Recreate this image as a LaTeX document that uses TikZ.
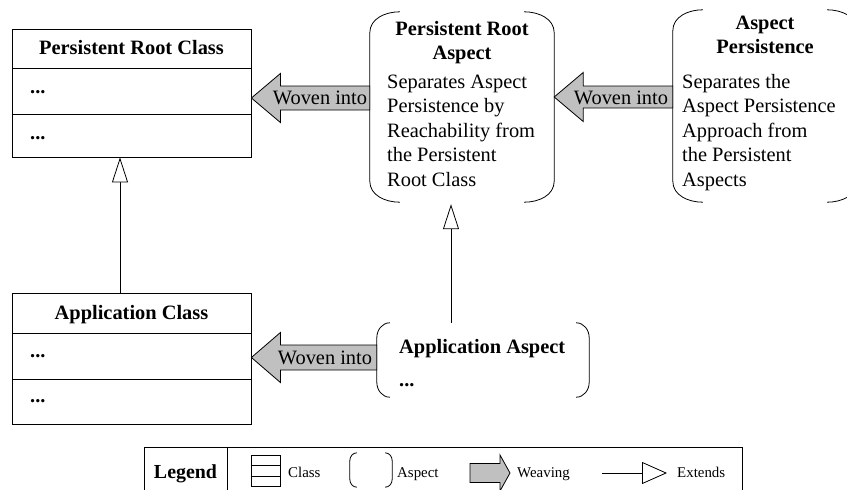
\documentclass[tikz,border=0pt]{standalone}
\usepackage{fontspec}
\setmainfont{Liberation Serif}
\usetikzlibrary{arrows.meta,calc}
\definecolor{wfill}{RGB}{192,192,192}
\newcommand{\aspbr}[3]{%
  \draw[ln] ([xshift=#2]#1.north west) to[out=180,in=90] ([yshift=-#3]#1.north west)
     -- ([yshift=#3]#1.south west) to[out=-90,in=180] ([xshift=#2]#1.south west);
  \draw[ln] ([xshift=-#2]#1.north east) to[out=0,in=90] ([yshift=-#3]#1.north east)
     -- ([yshift=#3]#1.south east) to[out=-90,in=0] ([xshift=-#2]#1.south east);}
\newcommand{\weavearrow}[5]{% tip, tail, head length, head half, shaft half
  \draw[ln, fill=wfill] (#1) -- ($(#1)+(#3,-#4)$) -- ($(#1)+(#3,-#5)$) -- ($(#2)+(0,-#5)$)
     -- ($(#2)+(0,#5)$) -- ($(#1)+(#3,#5)$) -- ($(#1)+(#3,#4)$) -- cycle;}
\begin{document}
\begin{tikzpicture}[x=1pt,y=-1pt,
  ln/.style={draw=black, line width=0.8pt},
  box/.style={ln, rectangle, inner sep=0pt},
  ghost/.style={rectangle, inner sep=0pt, draw=none},
  ttl/.style={inner sep=0pt, font=\fontsize{20.4}{24.5}\selectfont\bfseries},
  txt/.style={inner sep=0pt, font=\fontsize{20.4}{24.5}\selectfont},
  small/.style={inner sep=0pt, font=\fontsize{14.9}{17}\selectfont},
  extends/.style={ln, -{Triangle[open, length=25pt, width=16pt, fill=white]}},
  ]
\clip (0,0) rectangle (847,490);
% class boxes
\node[box, minimum width=239pt, minimum height=128pt] (prc) at (131.5,93) {};
\draw[ln] (prc.west |- 0,68) -- (prc.east |- 0,68);
\draw[ln] (prc.west |- 0,114) -- (prc.east |- 0,114);
\node[box, minimum width=239pt, minimum height=131pt] (ac) at (131.5,358.5) {};
\draw[ln] (ac.west |- 0,333) -- (ac.east |- 0,333);
\draw[ln] (ac.west |- 0,379) -- (ac.east |- 0,379);
% aspect boxes
\node[ghost, minimum width=184pt, minimum height=190pt] (pra) at (462,107) {};
\aspbr{pra}{30pt}{21pt}
\node[ghost, minimum width=184pt, minimum height=192pt] (ap) at (765,106) {};
\aspbr{ap}{30pt}{21pt}
\node[ghost, minimum width=212pt, minimum height=74pt] (aa) at (483,360) {};
\aspbr{aa}{13pt}{15pt}
% extends
\draw[extends] ([xshift=-11.5pt]ac.north) -- ([xshift=-11.5pt]prc.south);
\draw[extends] ([xshift=-11pt]pra.south |- aa.north) -- ([xshift=-11pt,yshift=-2pt]pra.south);
% weaving
\coordinate (w1t) at (prc.east |- 0,98);
\coordinate (w1e) at (pra.west |- 0,98);
\weavearrow{w1t}{w1e}{29}{24.5}{12}
\coordinate (w2t) at (pra.east |- 0,97);
\coordinate (w2e) at (ap.west |- 0,97);
\weavearrow{w2t}{w2e}{29}{24.5}{11}
\coordinate (w3t) at (ac.east |- 0,357.5);
\coordinate (w3e) at (aa.west |- 0,357.5);
\weavearrow{w3t}{w3e}{29}{25}{12.5}
\node[txt, anchor=base] (w1l) at (320,104) {Woven into};
\node[txt, anchor=base] (w2l) at (621,104) {Woven into};
\node[txt, anchor=base] (w3l) at (325,364) {Woven into};
% class texts
\node[ttl, anchor=base] (prct) at (131.5,54) {Persistent Root Class};
\node[ttl, anchor=base west] (prcd1) at (30,93) {...};
\node[ttl, anchor=base west] (prcd2) at (30,139) {...};
\node[ttl, anchor=base] (act) at (131.5,319) {Application Class};
\node[ttl, anchor=base west] (acd1) at (30,357) {...};
\node[ttl, anchor=base west] (acd2) at (30,402) {...};
% aspect texts
\node[ttl, anchor=base] (prat1) at (462,35) {Persistent Root};
\node[ttl, anchor=base] (prat2) at (462,59) {Aspect};
\node[txt, anchor=base west] (prab1) at (387,88) {Separates Aspect};
\node[txt, anchor=base west] (prab2) at (387,112.5) {Persistence by};
\node[txt, anchor=base west] (prab3) at (387,137) {Reachability from};
\node[txt, anchor=base west] (prab4) at (387,161.5) {the Persistent};
\node[txt, anchor=base west] (prab5) at (387,186) {Root Class};
\node[ttl, anchor=base] (apt1) at (765,29) {Aspect};
\node[ttl, anchor=base] (apt2) at (765,53) {Persistence};
\node[txt, anchor=base west] (apb1) at (682,88) {Separates the};
\node[txt, anchor=base west] (apb2) at (682,112.5) {Aspect Persistence};
\node[txt, anchor=base west] (apb3) at (682,137) {Approach from};
\node[txt, anchor=base west] (apb4) at (682,161.5) {the Persistent};
\node[txt, anchor=base west] (apb5) at (682,186) {Aspects};
\node[ttl, anchor=base west] (aat) at (399,353) {Application Aspect};
\node[ttl, anchor=base west] (aad) at (399,386) {...};
% legend
\node[box, minimum width=598pt, minimum height=56pt] (leg) at (443,475) {};
\draw[ln] (leg.north -| 227,0) -- (leg.south -| 227,0);
\node[inner sep=0pt, font=\fontsize{19.9}{22}\selectfont\bfseries, anchor=base] (legt) at (185.5,478) {Legend};
\node[box, minimum width=29pt, minimum height=31pt] (licls) at (265.5,470.5) {};
\draw[ln] (licls.west |- 0,465) -- (licls.east |- 0,465);
\draw[ln] (licls.west |- 0,476) -- (licls.east |- 0,476);
\node[small, anchor=base west] (lclst) at (288,477) {Class};
\node[ghost, minimum width=42pt, minimum height=34pt] (lasp) at (371,470) {};
\aspbr{lasp}{7pt}{8pt}
\node[small, anchor=base west] (laspt) at (397,477) {Aspect};
\coordinate (lwt) at (510,473);
\coordinate (lwe) at (470,473);
\draw[ln, fill=wfill] (lwt) -- ($(lwt)+(-10,-18)$) -- ($(lwt)+(-10,-9.5)$) -- ($(lwe)+(0,-9.5)$)
   -- ($(lwe)+(0,9.5)$) -- ($(lwt)+(-10,9.5)$) -- ($(lwt)+(-10,18)$) -- cycle;
\node[small, anchor=base west] (lwvt) at (517,477) {Weaving};
\coordinate (les) at (602,473);
\coordinate (lee) at (667,473);
\draw[ln, -{Triangle[open, length=25pt, width=22pt, fill=white]}] (les) -- (lee);
\node[small, anchor=base west] (lext) at (677,477) {Extends};
\end{tikzpicture}
\end{document}
